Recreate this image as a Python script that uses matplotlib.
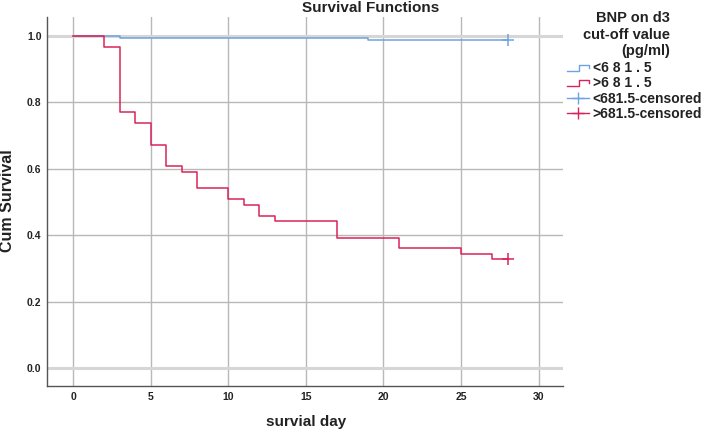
import numpy as np
import matplotlib
matplotlib.use("Agg")
import matplotlib.pyplot as plt
from matplotlib.lines import Line2D
from matplotlib.legend_handler import HandlerBase

plt.rcParams['font.family'] = ['Liberation Sans', 'DejaVu Sans']

# Kaplan-Meier steps
low_times = [0, 3, 19, 28]
low_surv = [1.0, 0.995, 0.988, 0.988]
low_censor_t = [28]
low_censor_s = [0.988]

high_times = [0, 2, 3, 4, 5, 6, 7, 8, 10, 11, 12, 13, 17, 21, 25, 27, 28]
high_surv = [1.0, 0.967, 0.770, 0.738, 0.672, 0.607, 0.590, 0.541, 0.508,
             0.492, 0.459, 0.443, 0.393, 0.361, 0.344, 0.328, 0.328]
high_censor_t = [28]
high_censor_s = [0.328]

x_ticks = [0, 5, 10, 15, 20, 25, 30]
y_ticks = [0.0, 0.2, 0.4, 0.6, 0.8, 1.0]

BLUE = '#6fa3e0'
RED = '#d8245a'
TXT = '#222222'


class StepHandler(HandlerBase):
    # draws the little step glyph SPSS uses in legends
    def create_artists(self, legend, orig_handle, xdescent, ydescent,
                       width, height, fontsize, trans):
        x0, x1 = -xdescent, -xdescent + width
        xm = x0 + width * 0.55
        y0 = -ydescent + height * 0.15
        y1 = -ydescent + height * 0.75
        ln = Line2D([x0, xm, xm, x1, x1], [y0, y0, y1, y1, y1 - height * 0.3],
                    color=orig_handle.get_color(), lw=1.0, transform=trans)
        return [ln]


fig = plt.figure(figsize=(7.09, 4.32), dpi=100)
ax = fig.add_axes([0.0663, 0.1065, 0.7277, 0.8541])

ax.step(low_times, low_surv, where='post', color=BLUE, lw=1.1, zorder=3)
ax.step(high_times, high_surv, where='post', color=RED, lw=1.1, zorder=3)
ax.plot(low_censor_t, low_censor_s, '+', color=BLUE, ms=8, mew=1.1, zorder=4)
ax.plot(high_censor_t, high_censor_s, '+', color=RED, ms=8, mew=1.1, zorder=4)

ax.set_xlim(-1.68, 31.57)
ax.set_ylim(-0.054, 1.057)
ax.set_xticks(x_ticks)
ax.set_yticks(y_ticks)
ax.set_xticklabels([str(t) for t in x_ticks], fontsize=7.5, fontweight='bold')
ax.set_yticklabels([f'{t:.1f}' for t in y_ticks], fontsize=7.5, fontweight='bold')
ax.tick_params(axis='x', length=0, pad=4.3, colors=TXT)
ax.tick_params(axis='y', length=0, pad=4, colors=TXT)

ax.grid(True, color='#b8b8b8', lw=1.0)
ax.set_axisbelow(True)
# the 0 and 1 reference lines are lighter and wider
ax.axhline(0.0, color='#d6d6d6', lw=2.2, zorder=1)
ax.axhline(1.0, color='#d6d6d6', lw=2.2, zorder=1)
for s in ['top', 'right']:
    ax.spines[s].set_visible(False)
for s in ['left', 'bottom']:
    ax.spines[s].set_color('#555555')
    ax.spines[s].set_linewidth(1.0)

fig.text(371 / 709, 1 - 8.5 / 432, 'Survival Functions', fontsize=11,
         fontweight='bold', ha='center', va='center', color=TXT)
fig.text(306 / 709, 1 - 422 / 432, 'survial day', fontsize=11,
         fontweight='bold', ha='center', va='center', color=TXT)
fig.text(8 / 709, 1 - 201 / 432, 'Cum Survival', fontsize=11.5, rotation=90,
         fontweight='bold', ha='center', va='center', color=TXT)

# legend title drawn on its own so the line spacing can be set
fig.text(670 / 709, 1 - 11 / 432, 'BNP on d3\ncut-off value\n(pg/ml)',
         fontsize=10.5, fontweight='bold', ha='right', va='top',
         multialignment='right', linespacing=1.25, color=TXT)

h_low = Line2D([], [], color=BLUE)
h_high = Line2D([], [], color=RED)
h_lowc = Line2D([], [], color=BLUE, marker='+', ls='-', lw=1.0, ms=8, mew=1.0)
h_highc = Line2D([], [], color=RED, marker='+', ls='-', lw=1.0, ms=8, mew=1.0)
leg = fig.legend([h_low, h_high, h_lowc, h_highc],
                 ['<6 8 1 . 5', '>6 8 1 . 5', '<681.5-censored', '>681.5-censored'],
                 handler_map={h_low: StepHandler(), h_high: StepHandler()},
                 loc='upper left', bbox_to_anchor=(567 / 709, 1 - 61 / 432),
                 frameon=False, borderpad=0, borderaxespad=0,
                 prop={'size': 10, 'weight': 'bold'},
                 handlelength=1.6, handletextpad=0.25, labelspacing=0.1,
                 handleheight=0.8)
for t in leg.get_texts():
    t.set_color(TXT)

fig.savefig('out.png', dpi=100)
